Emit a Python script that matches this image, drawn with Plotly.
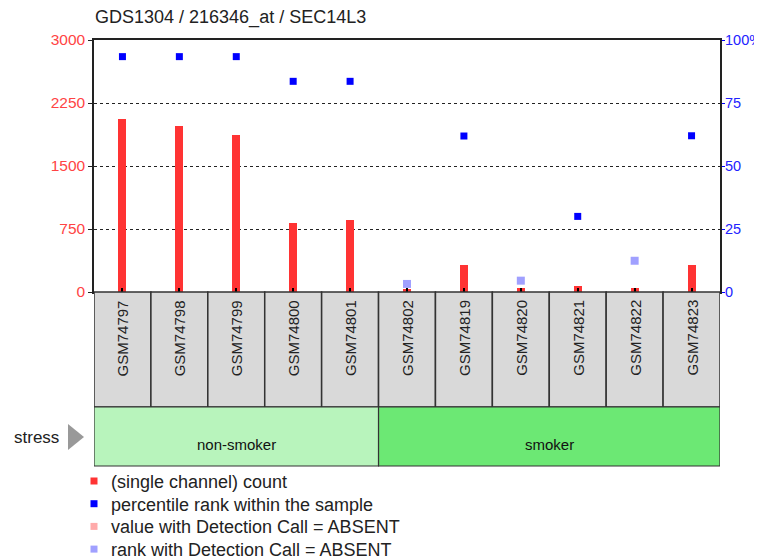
import plotly.graph_objects as go

samples = ["GSM74797", "GSM74798", "GSM74799", "GSM74800", "GSM74801", "GSM74802",
           "GSM74819", "GSM74820", "GSM74821", "GSM74822", "GSM74823"]
counts = [2060, 1975, 1865, 818, 853, 40, 325, 45, 70, 50, 325]
percentiles = [93.4, 93.4, 93.4, 83.6, 83.6, 3.2, 61.9, 4.5, 30.0, 12.4, 62.0]
absent = [False, False, False, False, False, True, False, True, False, True, False]
groups = ["non-smoker"] * 5 + ["smoker"] * 6
group_names = ["non-smoker", "smoker"]
group_colors = {"non-smoker": "#b8f4bc", "smoker": "#6ce874"}
title = "GDS1304 / 216346_at / SEC14L3"
left_ticks = [0, 750, 1500, 2250, 3000]
right_ticks = [0, 25, 50, 75, 100]
right_ticktext = ["0", "25", "50", "75", "100%"]
legend_items = [("(single channel) count", "#ff3333"),
                ("percentile rank within the sample", "#0000ff"),
                ("value with Detection Call = ABSENT", "#ffaaaa"),
                ("rank with Detection Call = ABSENT", "#a0a0ff")]

FONT = "Liberation Sans, Arial, sans-serif"
OFF = 8  # page body margin
W, H = 762 - OFF, 560 - OFF
L, R, T, B = 94 - OFF, 42, 40 - OFF, 268
PW = W - L - R
PH = H - T - B


def py(p):  # reference pixel y -> paper y
    return (292 - p) / PH


def px(p):  # reference pixel x -> paper x
    return (p - 94) / PW


fig = go.Figure()
fig.add_trace(go.Bar(x=samples, y=counts, width=0.14, marker_color="#ff3333",
                     marker_line_width=0, showlegend=False))
pres_x = [s for s, a in zip(samples, absent) if not a]
pres_y = [p for p, a in zip(percentiles, absent) if not a]
abs_x = [s for s, a in zip(samples, absent) if a]
abs_y = [p for p, a in zip(percentiles, absent) if a]
fig.add_trace(go.Scatter(x=pres_x, y=pres_y, yaxis="y2", mode="markers",
                         marker=dict(symbol="square", size=7, color="#0000ff"),
                         showlegend=False))
fig.add_trace(go.Scatter(x=abs_x, y=abs_y, yaxis="y2", mode="markers",
                         marker=dict(symbol="square", size=8, color="#a0a0ff"),
                         showlegend=False))

shapes = []
annotations = []
# sample boxes
for i, s in enumerate(samples):
    shapes.append(dict(type="rect", xref="x", yref="paper", x0=i - 0.5, x1=i + 0.5,
                       y0=py(407), y1=py(292), fillcolor="#d9d9d9",
                       line=dict(color="#333333", width=1.5), layer="above"))
    annotations.append(dict(xref="x", yref="paper", x=i, y=py(298), text=s,
                            textangle=-90, showarrow=False, yanchor="top",
                            xanchor="center",
                            font=dict(family=FONT, size=15, color="#222222")))
# group bands
for g in group_names:
    idx = [i for i, gg in enumerate(groups) if gg == g]
    x0, x1 = min(idx) - 0.5, max(idx) + 0.5
    shapes.append(dict(type="rect", xref="x", yref="paper", x0=x0, x1=x1,
                       y0=py(466), y1=py(407), fillcolor=group_colors[g],
                       line=dict(color="#333333", width=1.2), layer="above"))
    annotations.append(dict(xref="x", yref="paper", x=(x0 + x1) / 2, y=py(444),
                            text=g, showarrow=False, yanchor="middle",
                            font=dict(family=FONT, size=15, color="#111111")))
# stress label and triangle
annotations.append(dict(xref="paper", yref="paper", x=px(61), y=py(437), text="stress",
                        showarrow=False, xanchor="right", yanchor="middle",
                        font=dict(family=FONT, size=17, color="#222222")))
shapes.append(dict(type="path", xref="paper", yref="paper",
                   path=f"M {px(68)},{py(424)} L {px(84)},{py(437)} L {px(68)},{py(450)} Z",
                   fillcolor="#999999", line=dict(width=0)))
# title
annotations.append(dict(xref="paper", yref="paper", x=px(93), y=py(17), text=title,
                        showarrow=False, xanchor="left", yanchor="middle",
                        font=dict(family=FONT, size=18, color="#222222")))
# right axis tick labels (placed on the y2 scale)
for v, t in zip(right_ticks, right_ticktext):
    annotations.append(dict(xref="paper", yref="y2", x=px(724.5), y=v, text=t,
                            showarrow=False, xanchor="left", yanchor="middle",
                            borderpad=0, borderwidth=0,
                            font=dict(family=FONT, size=14.5, color="#2222ff")))
# legend
for k, (txt, col) in enumerate(legend_items):
    yc = 481 + k * 22.7
    shapes.append(dict(type="rect", xref="paper", yref="paper",
                       x0=px(90.5), x1=px(97.5), y0=py(yc + 3.5), y1=py(yc - 3.5),
                       fillcolor=col, line=dict(width=0)))
    annotations.append(dict(xref="paper", yref="paper", x=px(110), y=py(yc + 1),
                            text=txt, showarrow=False, xanchor="left", yanchor="middle",
                            borderpad=0,
                            font=dict(family=FONT, size=18, color="#222222")))

fig.update_layout(
    width=W, height=H, margin=dict(l=L, r=R, t=T, b=B, autoexpand=False),
    paper_bgcolor="white", plot_bgcolor="white",
    bargap=0, showlegend=False,
    xaxis=dict(type="category", range=[-0.5, len(samples) - 0.5], showticklabels=False,
               ticks="inside", ticklen=4, tickcolor="#000000", tickwidth=2,
               showgrid=False, showline=True, mirror=True, linecolor="#222222",
               linewidth=1.5, fixedrange=True, automargin=False),
    yaxis=dict(range=[0, 3000], tickvals=left_ticks, ticks="outside", ticklen=4,
               tickcolor="#222222", tickfont=dict(family=FONT, size=15.5, color="#ff4444"),
               showgrid=True, gridcolor="#222222", griddash="dot", gridwidth=1,
               zeroline=False, showline=True, linecolor="#222222", linewidth=1.5,
               automargin=False),
    yaxis2=dict(range=[0, 100], overlaying="y", side="right", tickvals=right_ticks,
                showticklabels=False, ticks="outside", ticklen=3, tickcolor="#0000ff",
                showgrid=False, zeroline=False, showline=True, linecolor="#222222",
                linewidth=1.5, automargin=False),
    shapes=shapes, annotations=annotations,
)

fig.write_html("out.html")
